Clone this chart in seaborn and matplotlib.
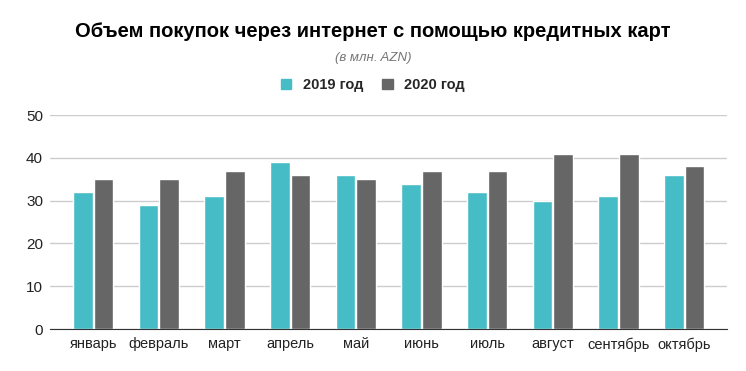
import pandas as pd
import matplotlib
matplotlib.use("Agg")
import matplotlib.pyplot as plt
import seaborn as sns

months = ['январь', 'февраль', 'март', 'апрель', 'май', 'июнь', 'июль', 'август', 'сентябрь', 'октябрь']
y2019 = [32, 29, 31, 39, 36, 34, 32, 30, 31, 36]
y2020 = [35, 35, 37, 36, 35, 37, 37, 41, 41, 38]
series = ['2019 год', '2020 год']
colors = ['#46BDC6', '#666666']

df = pd.DataFrame({'month': months * 2,
                   'value': y2019 + y2020,
                   'year': [series[0]] * len(months) + [series[1]] * len(months)})

sns.set_style("white")
plt.rcParams['font.family'] = ['Liberation Sans', 'DejaVu Sans']

fig = plt.figure(figsize=(7.46, 3.71), dpi=100)
ax = fig.add_axes([0.067, 0.113, 0.908, 0.577])

sns.barplot(data=df, x='month', y='value', hue='year', palette=colors,
            saturation=1, width=0.63, gap=0.05, ax=ax, legend=False)

ax.set_xlim(-0.66, 9.66)
ax.set_ylim(0, 50)
ax.set_yticks([0, 10, 20, 30, 40, 50])
ax.grid(axis='y', color='#cccccc', linewidth=1)
ax.set_axisbelow(True)
for s in ['top', 'right', 'left']:
    ax.spines[s].set_visible(False)
ax.spines['bottom'].set_color('#333333')
ax.tick_params(axis='y', length=0, labelsize=11, colors='#222222', pad=5)
ax.tick_params(axis='x', length=0, labelsize=10.5, colors='#222222', pad=6)
ax.set_xlabel('')
ax.set_ylabel('')

fig.text(0.5, 0.915, 'Объем покупок через интернет с помощью кредитных карт',
         ha='center', va='center', fontsize=14.5, fontweight='bold', color='#000000')
fig.text(0.5, 0.843, '(в млн. AZN)', ha='center', va='center',
         fontsize=9.5, style='italic', color='#757575')

handles = [plt.Rectangle((0, 0), 1, 1, color=c) for c in colors]
fig.legend(handles, series, loc='center', bbox_to_anchor=(0.5, 0.77), ncol=2,
           frameon=False, prop={'weight': 'bold', 'size': 10.5},
           handlelength=0.7, handleheight=0.7, columnspacing=1.3, handletextpad=0.8)

fig.savefig('out.png', dpi=100)
